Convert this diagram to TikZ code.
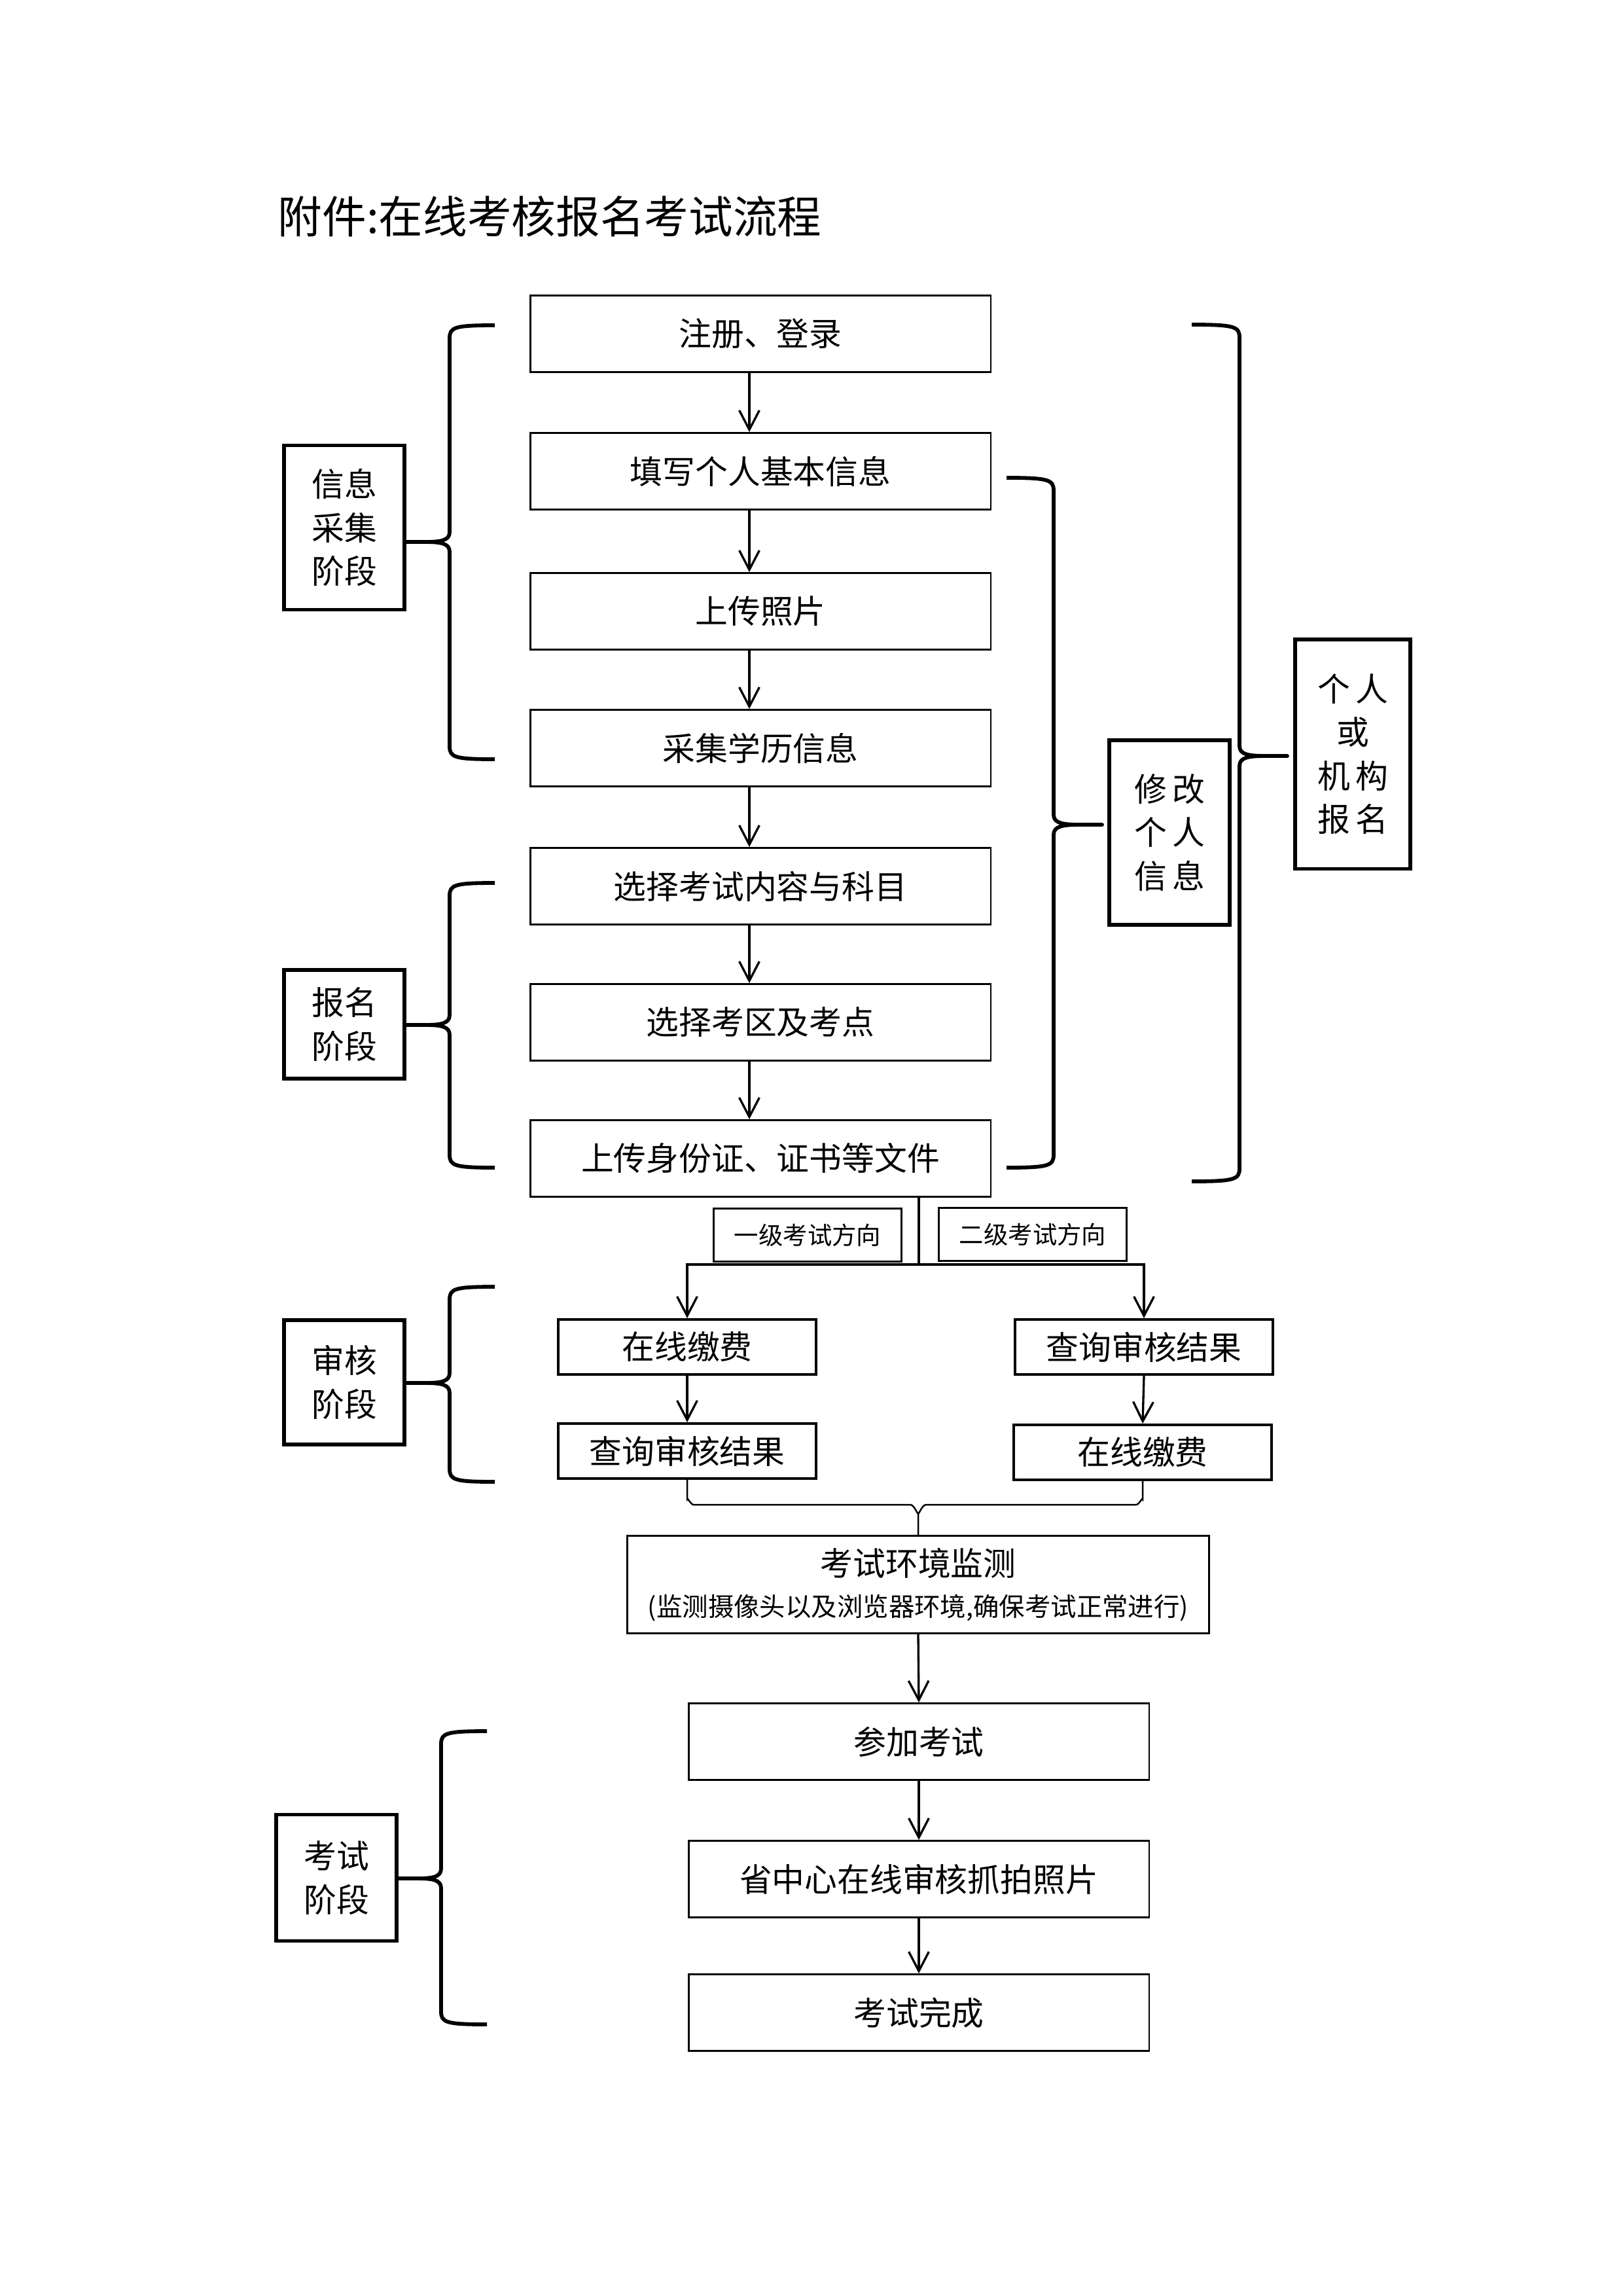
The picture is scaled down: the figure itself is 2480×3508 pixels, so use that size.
\documentclass[tikz,border=0pt]{standalone}
\usepackage{fontspec}
\setmainfont{Noto Sans CJK SC}
\usepackage{tikz}
\usetikzlibrary{arrows.meta}
\tikzstyle{stepbox}=[draw,line width=0.7pt,inner sep=0pt,minimum width=59.6mm,minimum height=9.9mm,font=\fontsize{12pt}{16pt}\selectfont]
\tikzstyle{stagebox}=[draw,line width=1.4pt,inner sep=0pt,minimum width=15.6mm,align=center,font=\fontsize{12pt}{16pt}\selectfont]
\tikzstyle{dirbox}=[draw,line width=0.7pt,inner sep=0pt,minimum width=24.3mm,minimum height=6.86mm,font=\fontsize{9pt}{11pt}\selectfont]
\tikzstyle{feebox}=[draw,line width=1pt,inner sep=0pt,minimum width=33.3mm,minimum height=7.1mm,font=\fontsize{12pt}{14pt}\selectfont]
\tikzstyle{arr}=[draw,line width=0.8pt,-{Straight Barb[length=2.5mm,width=2.6mm]}]
\tikzstyle{line}=[draw,line width=0.8pt]
\tikzstyle{brc}=[draw,line width=1.4pt,line join=round]

\begin{document}
\begin{tikzpicture}[x=0.084677mm,y=-0.084677mm]
  \useasboundingbox (0,0) rectangle (2480,3508);

  % title
  \node[anchor=west,inner sep=0pt,font=\fontsize{16.3pt}{19pt}\selectfont] (title) at (424,331) {附件:在线考核报名考试流程};

  % main column of steps
  \foreach \pos/\name/\label in {
    {(1162,510)/注册、登录/reg},
    {(1162,720)/填写个人基本信息/fill},
    {(1162,934)/上传照片/photo},
    {(1162,1143)/采集学历信息/edu},
    {(1162,1354)/选择考试内容与科目/subj},
    {(1162,1562)/选择考区及考点/area},
    {(1162,1770)/上传身份证、证书等文件/upload}}
    \node[stepbox] (\label) at \pos {\name};

  % arrows, a little left of the middle
  \foreach \a/\b in {reg/fill, fill/photo, photo/edu, edu/subj, subj/area, area/upload}
    \path[arr] ([xshift=-1.44mm]\a.south) -- ([xshift=-1.44mm]\b.north);

  % stage boxes
  \node[stagebox,minimum height=21.25mm] (stage1) at (526,806) {信息\\采集\\阶段};
  \node[stagebox,minimum height=14.06mm] (stage2) at (526,1565) {报名\\阶段};
  \node[stagebox,minimum height=16.09mm] (stage3) at (526,2112) {审核\\阶段};
  \node[stagebox,minimum height=16.34mm] (stage4) at (514,2869) {考试\\阶段};
  \node[stagebox,minimum height=23.9mm] (modify) at (1787,1272) {修\,改\\个\,人\\信\,息};
  \node[stagebox,minimum width=14.9mm,minimum height=29.7mm] (person) at (2067,1152) {个\,人\\或\\机\,构\\报\,名};

  % braces: vertical x / end x / tip x / top / middle / bottom
  \foreach \v/\e/\p/\t/\m/\b in {
    687/756/618/497/828/1160,
    687/756/618/1349/1566/1784,
    687/756/618/1966/2113/2264,
    674/744/607/2645/2870/3093,
    1610/1538/1684/730/1260/1784,
    1894/1821/1967/496/1155/1805}
    \path[brc] (\e,\t) .. controls (0.9*\v+0.1*\e,\t) and (\v,\t+3) .. (\v,\t+20)
      -- (\v,\m-15) .. controls (\v,\m-2) and (0.8*\v+0.2*\p,\m) .. (0.45*\v+0.55*\p,\m) -- (\p,\m)
      -- (0.45*\v+0.55*\p,\m) .. controls (0.8*\v+0.2*\p,\m) and (\v,\m+2) .. (\v,\m+15)
      -- (\v,\b-20) .. controls (\v,\b-3) and (0.9*\v+0.1*\e,\b) .. (\e,\b);

  % two directions
  \node[dirbox] (dir1) at (1234,1887) {一级考试方向};
  \node[dirbox] (dir2) at (1578,1886) {二级考试方向};

  \node[feebox] (pay1) at (1050,2058) {在线缴费};
  \node[feebox] (check1) at (1050,2217) {查询审核结果};
  \node[feebox] (check2) at (1748,2058) {查询审核结果};
  \node[feebox] (pay2) at (1746,2219) {在线缴费};

  \coordinate (split) at (1404,1932);
  \path[line] (upload.south -| split) -- (split);
  \path[arr] (split) -| (pay1.north);
  \path[arr] (split) -| (check2.north);
  \path[arr] (pay1.south) -- (check1.north);
  \path[arr] (check2.south) -- (pay2.north);

  % exam part
  \node[stepbox,minimum width=75.3mm,minimum height=12.6mm,align=center] (env) at (1403,2421)
    {考试环境监测\\[-1pt]{\fontsize{9.5pt}{12pt}\selectfont (监测摄像头以及浏览器环境,确保考试正常进行)}};
  \node[stepbox] (take) at (1404,2661) {参加考试};
  \node[stepbox] (center) at (1404,2871) {省中心在线审核抓拍照片};
  \node[stepbox] (done) at (1404,3075) {考试完成};

  % joining bracket under the two columns
  \coordinate (join) at (1403,2299);
  \path[draw,line width=0.6pt] (check1.south) -- (1050,2291) to[out=90,in=180] (1060,2299) -- (1391,2299)
    to[out=0,in=-90] (join |- 0,2311) -- (env.north);
  \path[draw,line width=0.6pt] (pay2.south) -- (1746,2291) to[out=90,in=0] (1736,2299) -- (1415,2299)
    to[out=180,in=-90] (join |- 0,2311);

  \foreach \a/\b in {env/take, take/center, center/done}
    \path[arr] (\a.south) -- (\b.north);
\end{tikzpicture}
\end{document}
